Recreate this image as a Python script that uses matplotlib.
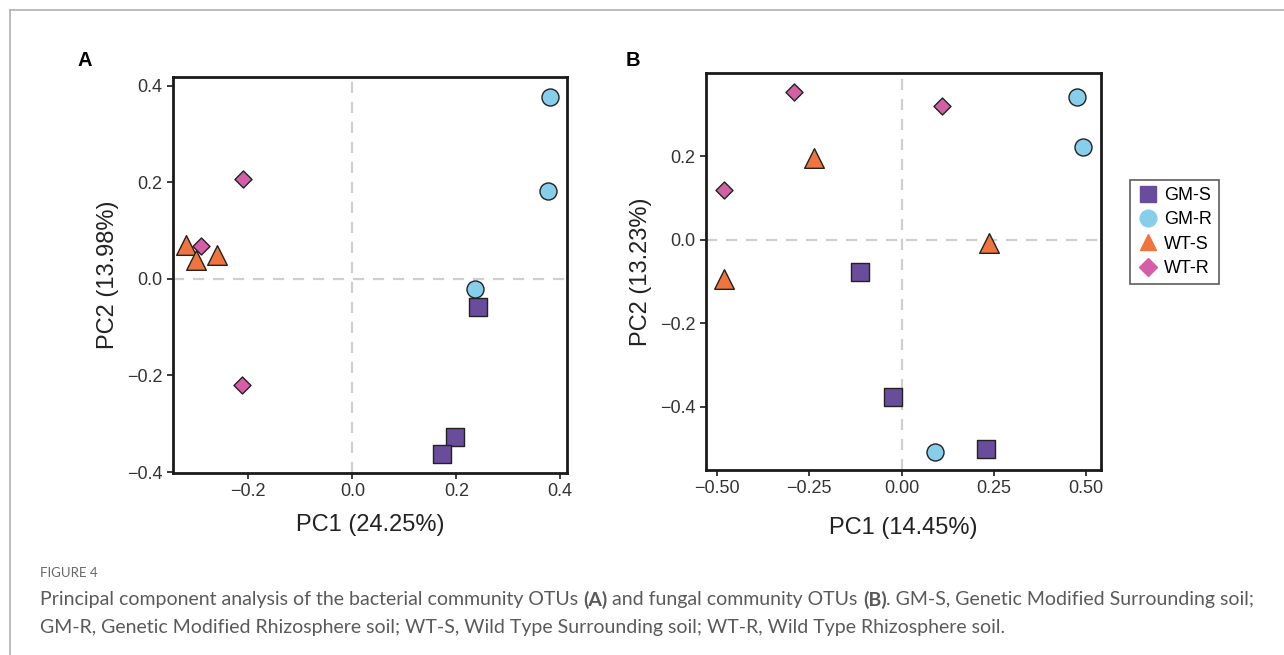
import numpy as np
import matplotlib
matplotlib.use("Agg")
import matplotlib.pyplot as plt
from matplotlib.lines import Line2D

plt.rcParams['font.family'] = ['Liberation Sans', 'DejaVu Sans']

groups = ["GM-S", "GM-R", "WT-S", "WT-R"]
colors = ["#6a4c9c", "#87ceeb", "#f0743e", "#d45fa6"]
markers = ["s", "o", "^", "D"]
sizes = [150, 150, 200, 75]

# panel A (bacteria)
a_pc1 = {"GM-S": [0.242, 0.198, 0.172],
         "GM-R": [0.381, 0.376, 0.236],
         "WT-S": [-0.320, -0.301, -0.261],
         "WT-R": [-0.210, -0.292, -0.212]}
a_pc2 = {"GM-S": [-0.059, -0.327, -0.363],
         "GM-R": [0.376, 0.182, -0.021],
         "WT-S": [0.070, 0.040, 0.050],
         "WT-R": [0.206, 0.068, -0.219]}

# panel B (fungi)
b_pc1 = {"GM-S": [-0.113, -0.024, 0.228],
         "GM-R": [0.475, 0.491, 0.089],
         "WT-S": [-0.238, 0.236, -0.482],
         "WT-R": [-0.291, 0.108, -0.482]}
b_pc2 = {"GM-S": [-0.077, -0.375, -0.501],
         "GM-R": [0.343, 0.222, -0.507],
         "WT-S": [0.197, -0.007, -0.093],
         "WT-R": [0.354, 0.320, 0.119]}

fig = plt.figure(figsize=(12.84, 6.55), dpi=100)

# grey frame of the figure page
fig.add_artist(Line2D([9.5/1284, 1], [1-9.5/655, 1-9.5/655], color="#b0b0b0", lw=1.2))
fig.add_artist(Line2D([9.5/1284, 9.5/1284], [0, 1-9.5/655], color="#b0b0b0", lw=1.2))

axA = fig.add_axes([173/1284, 1-473/655, 394/1284, 396/655])
axB = fig.add_axes([706/1284, 1-470/655, 395/1284, 397/655])


def draw_panel(ax, px, py):
    ax.axhline(0, color="#cfcfcf", ls=(0, (5, 4)), lw=1.6, zorder=1)
    ax.axvline(0, color="#cfcfcf", ls=(0, (5, 4)), lw=1.6, zorder=1)
    for g, c, m, s in zip(groups, colors, markers, sizes):
        ax.scatter(px[g], py[g], c=c, marker=m, s=s, edgecolors="#222222",
                   linewidths=1.0, zorder=3)
    for sp in ax.spines.values():
        sp.set_linewidth(2)
        sp.set_color("#1a1a1a")
    ax.tick_params(direction="out", length=4, width=1.2, labelsize=13,
                   colors="#1a1a1a", labelcolor="#333333")


draw_panel(axA, a_pc1, a_pc2)
axA.set_xlim(-0.345, 0.413)
axA.set_ylim(-0.402, 0.418)
axA.set_xticks([-0.2, 0.0, 0.2, 0.4])
axA.set_yticks([-0.4, -0.2, 0.0, 0.2, 0.4])
axA.set_xlabel("PC1 (24.25%)", fontsize=17, color="#222222", labelpad=10)
axA.set_ylabel("PC2 (13.98%)", fontsize=17, color="#222222", labelpad=6)

draw_panel(axB, b_pc1, b_pc2)
axB.set_xlim(-0.53, 0.54)
axB.set_ylim(-0.551, 0.40)
axB.set_xticks([-0.5, -0.25, 0.0, 0.25, 0.5])
axB.set_xticklabels(["\u22120.50", "\u22120.25", "0.00", "0.25", "0.50"])
axB.set_yticks([-0.4, -0.2, 0.0, 0.2])
axB.set_xlabel("PC1 (14.45%)", fontsize=17, color="#222222", labelpad=14)
axB.set_ylabel("PC2 (13.23%)", fontsize=17, color="#222222", labelpad=6)

handles = [Line2D([], [], ls="", marker=m, color=c, markersize=ms)
           for c, m, ms in zip(colors, markers, [11, 12, 11, 9])]
leg = axB.legend(handles, groups, loc="upper left",
                 bbox_to_anchor=(1130/1284, 1-180/655), bbox_transform=fig.transFigure,
                 fontsize=13, frameon=True, fancybox=False, handletextpad=0.3,
                 borderpad=0.4, labelspacing=0.4, handlelength=1.2, borderaxespad=0)
leg.get_frame().set_edgecolor("#333333")
leg.get_frame().set_linewidth(1.2)

fig.text(78/1284, 1-61/655, "A", fontsize=14.5, fontweight="bold", va="center")
fig.text(626/1284, 1-61/655, "B", fontsize=14.5, fontweight="bold", va="center")

# caption
cap_font = ["Lato", "DejaVu Sans"]
cap_col = "#5a5a5a"
fig.text(40/1284, 1-573/655, "FIGURE 4", fontsize=9.5, color="#666666",
         family=cap_font, va="center")

pieces1 = [("Principal component analysis of the bacterial community OTUs ", "normal"),
           ("(A)", "bold"),
           (" and fungal community OTUs ", "normal"),
           ("(B)", "bold"),
           (". GM-S, Genetic Modified Surrounding soil;", "normal")]
line2 = "GM-R, Genetic Modified Rhizosphere soil; WT-S, Wild Type Surrounding soil; WT-R, Wild Type Rhizosphere soil."

fig.canvas.draw()
renderer = fig.canvas.get_renderer()
x = 40 / 1284
for txt, w in pieces1:
    t = fig.text(x, 1-600/655, txt, fontsize=14, color=cap_col, family=cap_font,
                 fontweight=w, va="center")
    bb = t.get_window_extent(renderer=renderer)
    x += bb.width / 1284
fig.text(40/1284, 1-628/655, line2, fontsize=14, color=cap_col, family=cap_font,
         va="center")

plt.savefig("out.png", dpi=100)
